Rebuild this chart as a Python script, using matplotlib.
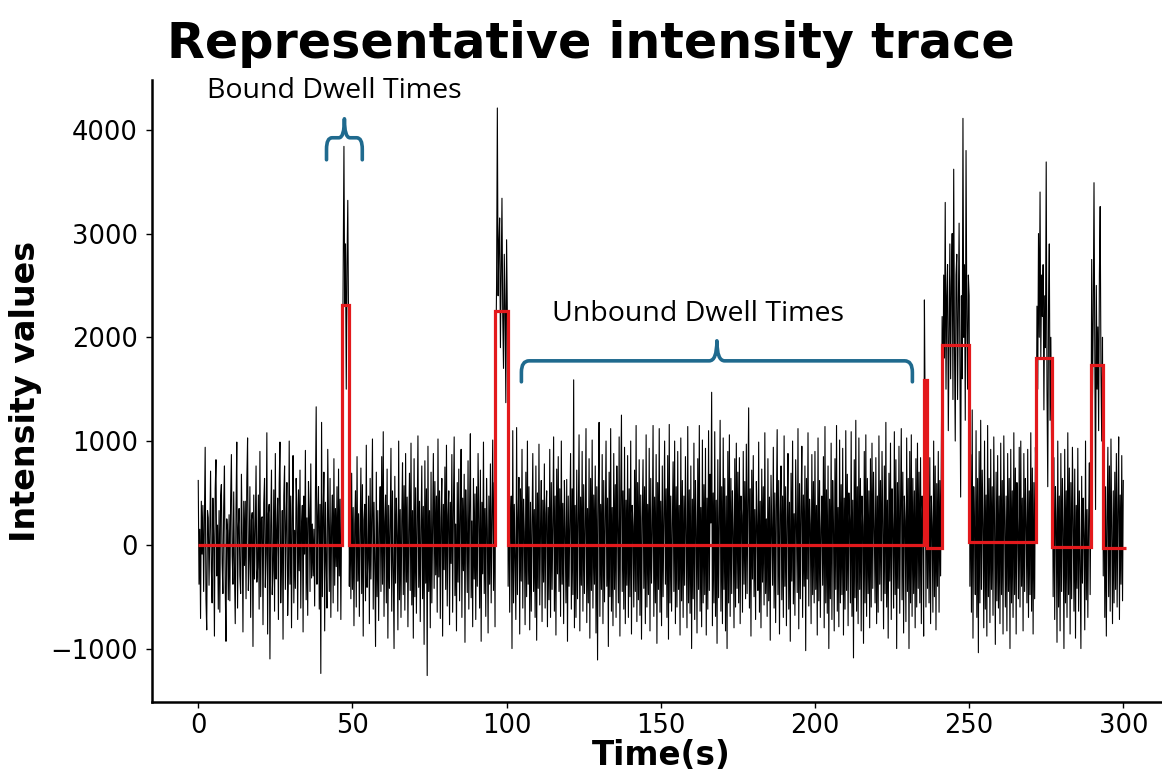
import numpy as np
import matplotlib.pyplot as plt
from matplotlib.path import Path
from matplotlib.patches import PathPatch

OUT_PATH = "out.png"

# Intensity trace, one frame every 0.25 s (t = 0 ... 300 s), 40 frames per row
FRAME_INTERVAL = 0.25
intensity = [
    620, -380, 150, -710, 420, -90, 380, -450, 210, 940, -520, -820, 330, 260, -390, 120, 710, -240, -560, 450,
    80, -880, 540, 820, -300, 190, -620, 330, -650, 470, 580, -180, -470, 360, 760, -410, -930, 250, 140, -530,
    290, -540, 430, 870, -110, -380, 510, -260, -760, 350, 990, -610, 170, 350, -300, -470, 680, 90, -840, 420,
    -200, 420, -520, 610, 1030, -440, -150, 560, -700, 240, 310, -980, 480, -330, 130, 760, -360, -220, 480, -620,
    900, -500, 260, 270, -770, 400, 640, -410, -90, 1080, -860, 300, 390, -1100, 180, 720, -480, -250, 530, -640,
    880, -330, 120, 450, -720, 590, 990, -560, -160, 330, -910, 470, 760, -430, 210, 600, -680, -300, 1000, -380,
    470, -800, 260, 860, -560, 140, -420, 640, 350, -720, 530, -250, 720, -610, 180, 380, -840, 470, -90, 910,
    -530, 260, -680, 610, 340, -450, 780, -320, 200, -300, 150, -590, 480, 1330, -380, 250, 560, -620, 390, -1240,
    1180, -500, 270, 700, -830, 410, -160, -610, 920, 230, -450, 640, -700, 180, 480, -560, 830, -390, 350, -210,
    560, -640, 730, -300, 440, -720, 310, 1400, 2600, 3840, 2300, 2900, 1500, 2700, 3320, 2100, -400, 520, -520, 690,
    -430, 360, -780, 200, 520, -600, 850, -350, 300, -690, 110, 740, -470, 580, -880, 240, 390, -540, 960, -410,
    -150, 470, -760, 640, -330, 280, 1020, -620, 410, -180, -980, 700, -500, 330, -730, 150, 560, -450, 850, -380,
    1090, -690, 220, 480, -560, 730, -900, 380, -420, 160, 930, -640, 520, -250, -1000, 660, -370, 450, 90, -820,
    1000, -530, 340, -700, 230, 790, -480, 570, -630, 880, -360, 460, -790, 130, 690, -440, 980, -580, 330, -900,
    830, -500, 550, -660, 210, 1050, -410, 420, -740, 160, 760, -520, 370, -960, 810, -370, 540, -1260, 950, -450,
    330, -800, 700, -560, 180, 880, -420, 610, -290, 470, -650, 1020, -310, 520, -710, 260, 640, -880, 390, -240,
    750, -430, 960, -590, 280, 520, -770, 410, -180, 870, -650, 340, 1040, -490, 200, -830, 600, -360, 730, -540,
    280, 920, -700, 450, -250, 680, -940, 530, 110, -460, 810, -620, 380, 1070, -510, 230, -790, 640, -330, 490,
    -720, 560, -400, 880, 250, -610, 720, -930, 410, -280, 990, -470, 350, -690, 640, 150, -850, 470, -380, 780,
    -560, 300, 1010, -440, 600, -790, 1800, 2500, 4210, 2400, 2900, 3150, 1900, 2600, 3340, 2200, 1700, 2800, 2300, 1370,
    2940, 2200, -400, 820, -650, 240, 470, -1000, 1100, -560, 390, -180, -720, 1130, -480, 260, 650, -860, 540, -350,
    920, -610, 440, 120, -770, 700, -500, 1000, -380, 560, -820, 410, -640, 200, 880, -450, 340, -700, 760, -920,
    500, -420, 970, -580, 150, 620, -740, 430, -360, 780, -610, 300, 520, -790, 360, -530, 920, -700, 600, -430,
    210, 1040, -640, 470, -870, 730, -280, 850, -450, 540, -690, 1000, -380, 400, -760, 620, 120, -560, 630, -930,
    470, -400, 280, 880, -620, 540, -480, 1590, -800, 380, -700, 720, -520, 230, 1060, -830, 460, -390, 900, -640,
    580, -470, 170, 1120, -750, 350, -560, 830, -900, 640, -440, 1010, -610, 480, -380, 760, -850, 560, -1110, 520,
    1180, -690, 390, -430, 870, -760, 620, -550, 210, 1000, -400, 450, -980, 700, -500, 1120, -640, 360, -780, 880,
    -430, 580, -700, 760, 150, -560, 1040, -880, 470, 1250, -450, 520, -620, 940, -760, 430, -390, 860, -700, 540,
    -500, 1000, -860, 380, 180, -600, 720, -450, 1150, -740, 600, -530, 820, -680, 480, -910, 240, 820, -420, 560,
    -760, 1060, -600, 390, -480, 930, -830, 640, -370, 110, 1150, -690, 460, -560, 870, -950, 600, -430, 1120, -650,
    420, -780, 760, -500, 240, 1000, -380, 540, -700, 860, -910, 1160, -560, 470, -640, 180, 800, -450, 1000, -760,
    560, -600, 900, -430, 380, -870, 1030, -540, 620, -700, 470, -390, 850, 90, -800, 1140, -560, 530, -660, 760,
    -1000, 440, -520, 980, -720, 620, 150, -850, 830, -430, 1150, -640, 360, -790, 1010, -560, 580, -480, 930, -870,
    450, -620, 1100, -440, 680, 210, 1470, -780, 500, -560, 1090, -690, 430, -950, 820, -510, 200, 1200, -640, 560,
    -760, 1030, -430, 640, -830, 470, -1000, 900, -560, 1060, -690, 640, -470, 520, 130, -800, 830, -600, 980, -420,
    700, -560, 840, -760, 470, 280, -650, 900, -380, 610, -520, 970, -470, 380, 1320, -610, 540, -880, 720, -330,
    860, -500, 340, -720, 610, 180, -440, 990, -650, 420, -800, 730, -360, 560, -580, 1080, -470, 250, -690, 830,
    -540, 460, -920, 670, 120, -390, 940, -610, 500, -750, 380, 1110, -480, 620, -860, 290, 760, -530, 470, -700,
    1050, -400, 560, -780, 230, 880, -620, 410, -930, 690, -350, 1000, -570, 300, -680, 820, 170, -460, 1120, -810,
    590, -520, 370, 950, -700, 480, -400, 760, -1020, 640, -330, 1080, -590, 440, 200, -760, 870, -480, 610, -560,
    900, -430, 380, -870, 1030, -540, 620, -700, 150, 470, -390, 850, -800, 1140, -560, 530, -660, 760, -1000, 440,
    -520, 980, -720, 620, 210, -830, 830, -430, 1150, -640, 360, -790, 1010, -560, 580, -480, 930, -870, 450, -620,
    1100, -440, 680, -780, 500, 240, -560, 1090, -690, 430, -1090, 820, -510, 1200, -640, 560, -760, 1030, -430, 640,
    -830, 470, 190, -950, 900, -560, 1060, -690, 640, -470, 520, -800, 830, -600, 980, -420, 700, 160, -560, 840,
    -760, 470, -650, 1050, -380, 620, -540, 900, 210, -810, 760, -470, 1180, -600, 430, -900, 690, -350, 980, -720,
    540, 140, -610, 1090, -480, 820, -1000, 600, -420, 950, -660, 380, 1120, -530, 700, -850, 470, 230, -740, 1030,
    -450, 640, -1000, 900, -560, 1060, -690, 640, -470, 520, -800, 830, -600, 980, -420, 700, -560, 840, -760, 470,
    250, -880, 2360, 1200, -600, 980, -420, 700, -560, 840, -760, 470, 180, -650, 1000, -500, 760, -820, 590, -400,
    900, -650, 620, -300, 1000, 2200, 1300, 2600, 1800, 3300, 1500, 2400, 2700, 1100, 2000, 2900, 1600, 2500, 3000, 1400,
    3620, 1900, 1000, 2600, 2800, 1400, 2300, 3100, 1700, 460, 2400, 1600, 4110, 2000, 2700, 1200, 3800, 2200, 1500, 2600,
    2400, -400, 870, -650, 1300, -900, 560, 150, -480, 1100, -700, 640, -1040, 900, -560, 1200, -430, 720, 200, -800,
    1000, -620, 480, -880, 1150, -500, 640, -750, 920, -430, 560, -680, 1040, 180, -960, 700, -540, 860, -610, 470,
    -760, 980, -480, 620, -860, 1050, 240, -600, 470, -830, 880, -450, 640, -1000, 920, -560, 520, -700, 1080, -480,
    740, -860, 600, 120, -520, 940, -600, 1000, -400, 450, -830, 880, -450, 640, 200, -560, 920, -700, 520, -480,
    1080, -640, 740, -860, 600, -520, 940, 600, 2300, 1500, 3000, 2000, 3400, 1800, 2600, 2200, 2700, 1300, 2400, 1900,
    3690, 1500, 560, 2300, 2900, 1200, 2000, 900, 1100, -500, 840, -720, 560, 230, -940, 1000, -600, 470, -830, 880,
    -450, 640, 150, -1000, 920, -560, 520, -700, 1080, -480, 740, -860, 600, -520, 940, 240, -640, 730, -900, 380,
    -420, 930, -640, 520, -250, -1000, 660, -370, 450, 90, -820, 1000, -530, 340, -700, 230, 790, -480, 570, 2750,
    1400, 2200, 3490, 1800, 340, 2500, 1500, 2100, 1100, 2600, 3260, 1700, 1000, 2000, -300, 1000, -700, 560, -880, 240,
    940, -500, 760, -640, 1020, 130, -760, 520, -560, 700, -430, 880, -600, 350, 1040, -720, 480, -380, 860, -540,
    620,
]

# Step fit (edges in s, level of each step)
fit_edges = [0, 46.7, 49.0, 96.4, 100.3, 235.4, 236.4, 241.2, 250.0, 271.8, 277.0, 289.6, 293.5, 301.0]
fit_levels = [0, 2310, 0, 2250, 0, 1590, -30, 1930, 25, 1800, -25, 1735, -30]

BRACE_COLOR = "#1f6a8e"


def draw_brace(ax, x0, x1, y_bar, y_leg, y_tip, rx, ry):
    xc = (x0 + x1) / 2
    verts = [(x0, y_leg), (x0, y_bar - ry), (x0, y_bar), (x0 + rx, y_bar),
             (xc - rx, y_bar), (xc, y_bar), (xc, y_tip),
             (xc, y_bar), (xc + rx, y_bar),
             (x1 - rx, y_bar), (x1, y_bar), (x1, y_bar - ry), (x1, y_leg)]
    codes = [Path.MOVETO, Path.LINETO, Path.CURVE3, Path.CURVE3,
             Path.LINETO, Path.CURVE3, Path.CURVE3,
             Path.CURVE3, Path.CURVE3,
             Path.LINETO, Path.CURVE3, Path.CURVE3, Path.LINETO]
    patch = PathPatch(Path(verts, codes), facecolor="none", edgecolor=BRACE_COLOR,
                      lw=2.6, capstyle="round", joinstyle="round", clip_on=False, zorder=5)
    ax.add_patch(patch)


time = np.arange(len(intensity)) * FRAME_INTERVAL

fig = plt.figure(figsize=(11.62, 7.75), dpi=100)
ax = fig.add_axes([0.1308, 0.0942, 0.8757, 0.8026])

ax.plot(time, intensity, color="black", lw=0.8)
ax.stairs(fit_levels, fit_edges, baseline=None, color="#e3191c", lw=2.3, zorder=4)

ax.set_xlim(-15, 315)
ax.set_ylim(-1515, 4480)
ax.set_xticks([0, 50, 100, 150, 200, 250, 300])
ax.set_yticks([-1000, 0, 1000, 2000, 3000, 4000])

for side in ["top", "right"]:
    ax.spines[side].set_visible(False)
for side in ["left", "bottom"]:
    ax.spines[side].set_linewidth(1.8)
ax.tick_params(labelsize=18.5, length=4, width=1)
ax.tick_params(axis="y", pad=6)
ax.tick_params(axis="x", pad=4)

ax.set_xlabel("Time(s)", fontsize=23.5, fontweight="bold", labelpad=0)
ax.set_ylabel("Intensity values", fontsize=24, fontweight="bold", labelpad=6)
fig.text(0.5086, 0.925, "Representative intensity trace", fontsize=35.5,
         fontweight="bold", ha="center", va="baseline")

# annotations
draw_brace(ax, 41.6, 53.2, 3923, 3711, 4106, 1.8, 110)
draw_brace(ax, 104.8, 231.6, 1773, 1571, 1966, 2.5, 110)
ax.text(44.1, 4308, "Bound Dwell Times", fontsize=20.5, family="Open Sans",
        ha="center", va="baseline", clip_on=False)
ax.text(162.2, 2159, "Unbound Dwell Times", fontsize=20.5, family="Open Sans",
        ha="center", va="baseline")

fig.savefig(OUT_PATH, dpi=100)
plt.close(fig)
